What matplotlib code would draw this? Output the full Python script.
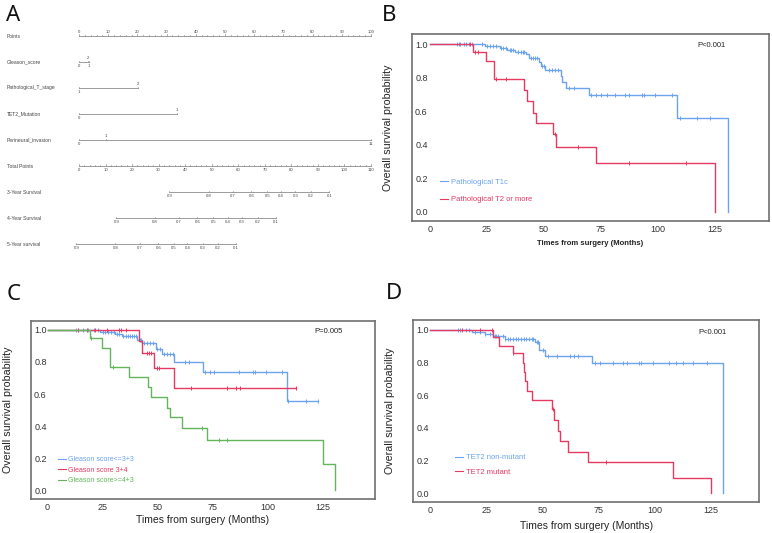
import numpy as np
import matplotlib
matplotlib.use('Agg')
import matplotlib.pyplot as plt

plt.rcParams['font.family'] = ['Liberation Sans', 'DejaVu Sans']

BLUE = '#6ba3ee'
RED = '#e53a62'
GREEN = '#62b55a'

# ---------------- nomogram data (panel A) ----------------
nomo_rows = ['Points', 'Gleason_score', 'Pathological_T_stage', 'TET2_Mutation',
             'Perineural_invasion', 'Total Points', '3-Year Survival',
             '4-Year Survival', '5-Year survival']
points_ticks = np.arange(0, 101, 10)
total_ticks = np.arange(0, 111, 10)

gleason_pts = [0, 3.0, 3.5]
gleason_lab = ['0', '2', '1']
tstage_pts = [0, 20.3]
tstage_lab = ['1', '2']
tet2_pts = [0, 33.4]
tet2_lab = ['0', '1']
pni_pts = [0, 9.2, 100]
pni_lab = ['0', '1', '11']

surv_lab = ['0.9', '0.8', '0.7', '0.6', '0.5', '0.4', '0.3', '0.2', '0.1']
surv3_total = [34.0, 48.9, 57.9, 64.9, 70.9, 76.0, 81.5, 87.3, 94.3]
surv4_total = [14.1, 28.6, 37.7, 44.6, 50.6, 56.2, 61.4, 67.3, 74.2]
surv5_total = [-1.0, 13.7, 23.0, 29.9, 35.8, 40.8, 46.6, 52.2, 59.1]

# ---------------- KM data ----------------
# panel B
b_t1c_t = [0, 24, 30.7, 34, 37.3, 42.4, 43.6, 47.9, 48.6, 50.5, 57.4, 58, 59.6, 69.8, 108.6, 130.8]
b_t1c_s = [1.0, 0.99, 0.976, 0.965, 0.955, 0.94, 0.92, 0.895, 0.87, 0.845, 0.81, 0.775, 0.74, 0.70, 0.559, 0.0]
b_t1c_c = [12, 12.6, 13.2, 14.8, 16, 17, 18.3, 22.7, 25, 26.3, 27.5, 28.8, 31.3, 32.3, 33.5, 35,
           35.8, 36.6, 38.5, 39.8, 40.8, 41.5, 44.5, 45.3, 46, 46.8, 49.3, 50.3, 52.3, 53.5, 55,
           56.3, 61.2, 63.2, 70.6, 72.9, 75.2, 77.9, 81.3, 85.7, 87.2, 93, 94, 99, 106.3, 109.6,
           117.4, 122.8]
b_t2_t = [0, 19, 24.6, 28.2, 41.2, 42.8, 45.3, 46.5, 54.1, 55.3, 72.7, 125]
b_t2_s = [1.0, 0.952, 0.90, 0.793, 0.725, 0.662, 0.592, 0.529, 0.463, 0.386, 0.29, 0.0]
b_t2_c = [17.5, 19.6, 21.3, 28.8, 33.6, 54.7, 65.1, 87.4, 112.6]

# panel C
c_g6_t = [0, 23.8, 30.6, 33.7, 40.8, 43.1, 49.3, 52.2, 57.6, 70.5, 108.8]
c_g6_s = [1.0, 0.99, 0.975, 0.96, 0.94, 0.92, 0.883, 0.85, 0.80, 0.7375, 0.556]
c_g6_c = [12.9, 13.9, 16.2, 18.5, 21.2, 22.7, 25, 26.2, 27.3, 28.8, 30.2, 31.5, 32.6, 34.3,
          35.5, 36.5, 37.6, 38.5, 39.5, 40.3, 42.0, 42.7, 44, 45.3, 46.8, 48.1, 49.9, 51, 52.9,
          54.4, 55.9, 57.1, 62.3, 64.3, 71.6, 73.9, 75.8, 87.2, 93.3, 94.2, 99.2, 106.8, 109.5,
          117.4, 123.2]
c_g7_t = [0, 41.7, 42.8, 48.4, 57.5]
c_g7_s = [1.0, 0.93, 0.855, 0.76, 0.635]
c_g7_c = [13.9, 17.7, 21.5, 26.8, 32.6, 33.4, 35.5, 45.1, 46.1, 47.0, 49.6, 50.7, 65.2, 81.6,
          85.7, 87.5, 112.9]
c_g8_t = [0, 19.3, 24.6, 28.4, 37.2, 45.8, 46.9, 54.1, 55.7, 61.3, 72.6, 125.2, 130.9]
c_g8_s = [1.0, 0.948, 0.89, 0.77, 0.708, 0.642, 0.579, 0.515, 0.454, 0.3875, 0.31, 0.16, 0.0]
c_g8_c = [19.8, 29.6, 70.2, 78.1, 81.5]

# panel D
d_wt_t = [0, 18.5, 24.5, 28.2, 33.4, 46.7, 48.6, 51.2, 71.9, 130.5]
d_wt_s = [1.0, 0.99, 0.975, 0.961, 0.947, 0.926, 0.877, 0.842, 0.7975, 0.0]
d_wt_c = [12.6, 13.4, 16.0, 17.5, 20, 22.2, 24.7, 26.7, 28.8, 29.5, 30.4, 32.5, 33.6, 34.7,
          35.7, 36.8, 38.3, 39.2, 40.7, 41.7, 42.8, 44, 45.2, 45.8, 47.4, 48.2, 50.1, 52.6,
          56.3, 62.2, 64.2, 65.7, 73.4, 75.6, 81.5, 86.0, 87.5, 93.2, 94.0, 99.1, 106.5, 109.5,
          112.4, 117.2, 123.1]
d_mut_t = [0, 28.2, 30.7, 36.8, 41.2, 41.8, 42.4, 43.3, 45.5, 54.2, 55.2, 57.1, 57.8, 61.2,
           70.4, 108.2, 124.8]
d_mut_s = [1.0, 0.959, 0.904, 0.857, 0.80, 0.74, 0.685, 0.625, 0.569, 0.514, 0.448, 0.383,
           0.318, 0.253, 0.19, 0.094, 0.0]
d_mut_c = [14.1, 22.2, 27.4, 37.1, 54.9, 78.1]

x_ticks = [0, 25, 50, 75, 100, 125]
y_ticks = [0.0, 0.2, 0.4, 0.6, 0.8, 1.0]


def km_xy(t, s, cens):
    end = max(t[-1], max(cens))
    return list(t) + [end], list(s) + [s[-1]]


def cens_y(t, s, cens):
    idx = np.searchsorted(t, cens, side='right') - 1
    return np.asarray(s)[idx]


def km_panel(ax, curves, pval, pxy, xlim, ylim, leg_anchor, leg_fs, leg_sp,
             bold_x, xlab_fs, xlab_y):
    for t, s, c, col, lab in curves:
        tx, sy = km_xy(t, s, c)
        ax.step(tx, sy, where='post', color=col, lw=1.0, label=lab)
        ax.plot(c, cens_y(t, s, c), ls='none', marker='|', ms=3.5, mew=0.7, color=col)
    ax.set_xlim(*xlim)
    ax.set_ylim(*ylim)
    ax.set_xticks(x_ticks)
    ax.set_yticks(y_ticks)
    ax.set_yticklabels(['%.1f' % v for v in y_ticks])
    ax.tick_params(axis='both', length=0, labelsize=6.5, colors='#333333')
    ax.tick_params(axis='y', pad=-11.5)
    ax.tick_params(axis='x', pad=3)
    for sp in ax.spines.values():
        sp.set_color('#707070')
        sp.set_linewidth(1.2)
    ax.set_ylabel('Overall survival probability', fontsize=7.7, color='#222222')
    ax.yaxis.set_label_coords(-0.052, 0.5)
    ax.set_xlabel('Times from surgery (Months)', fontsize=xlab_fs, color='#222222',
                  fontweight='bold' if bold_x else 'normal')
    ax.xaxis.set_label_coords(0.5, xlab_y)
    ax.text(pxy[0], pxy[1], pval, transform=ax.transAxes, fontsize=5.5,
            ha='center', va='center', color='#222222')
    leg = ax.legend(loc='upper left', bbox_to_anchor=leg_anchor, frameon=False,
                    fontsize=leg_fs, handlelength=1.1, handletextpad=0.4,
                    labelspacing=leg_sp, borderpad=0, borderaxespad=0,
                    labelcolor='linecolor')
    for h in leg.legend_handles:
        h.set_linewidth(0.8)


W, H = 772, 533
fig = plt.figure(figsize=(W / 100, H / 100), dpi=100)


def px_axes(x0, x1, y0, y1):
    return fig.add_axes([x0 / W, 1 - y1 / H, (x1 - x0) / W, (y1 - y0) / H])


# ---------------- panel A ----------------
axa = px_axes(0, 390, 0, 270)
axa.set_xlim((0 - 79) / 2.92, (390 - 79) / 2.92)
axa.set_ylim(270, 0)
axa.axis('off')
lc = '#8c8c8c'
tc = '#444444'
row_y = [36 + 26 * i for i in range(len(nomo_rows))]
for name, y in zip(nomo_rows, row_y):
    axa.text(-24.7, y, name, fontsize=3.6, color=tc, va='center', ha='left')

# Points scale
y = row_y[0]
axa.plot([0, 100], [y, y], color=lc, lw=0.6)
for v in np.arange(0, 101, 2):
    axa.plot([v, v], [y, y - (1.6 if v % 10 == 0 else 0.9)], color=lc, lw=0.5)
for v in points_ticks:
    axa.text(v, y - 2.2, str(v), fontsize=3.1, color=tc, ha='center', va='bottom')

# covariate scales
for (pts, labs), y in zip([(gleason_pts, gleason_lab), (tstage_pts, tstage_lab),
                           (tet2_pts, tet2_lab), (pni_pts, pni_lab)], row_y[1:5]):
    axa.plot([min(pts), max(pts)], [y, y], color=lc, lw=0.6)
    for i, (p, lab) in enumerate(zip(pts, labs)):
        axa.plot([p, p], [y, y - 1.4], color=lc, lw=0.5)
        if i % 2 == 0:
            axa.text(p, y + 2.0, lab, fontsize=3.1, color=tc, ha='center', va='top')
        else:
            axa.text(p, y - 2.2, lab, fontsize=3.1, color=tc, ha='center', va='bottom')

# Total points scale
y = row_y[5]
sc = 100 / 110
axa.plot([0, 100], [y, y], color=lc, lw=0.6)
for v in np.arange(0, 111, 2):
    axa.plot([v * sc, v * sc], [y, y - (1.6 if v % 10 == 0 else 0.9)], color=lc, lw=0.5)
for v in total_ticks:
    axa.text(v * sc, y + 2.3, str(v), fontsize=3.1, color=tc, ha='center', va='top')

# survival scales
for tot, y in zip([surv3_total, surv4_total, surv5_total], row_y[6:9]):
    xs = [v * sc for v in tot]
    axa.plot([xs[0], xs[-1]], [y, y], color=lc, lw=0.6)
    for xv, lab in zip(xs, surv_lab):
        axa.plot([xv, xv], [y, y - 1.4], color=lc, lw=0.5)
        axa.text(xv, y + 2.3, lab, fontsize=3.1, color=tc, ha='center', va='top')

# ---------------- panel B ----------------
axb = px_axes(411.7, 769.3, 34.3, 221)
km_panel(axb,
         [(b_t1c_t, b_t1c_s, b_t1c_c, BLUE, 'Pathological T1c'),
          (b_t2_t, b_t2_s, b_t2_c, RED, 'Pathological T2 or more')],
         'P<0.001', (0.837, 0.939), (-8, 149), (-0.054, 1.06),
         (0.079, 0.226), 5.5, 1.3, True, 5.5, -0.10)

# ---------------- panel C ----------------
axc = px_axes(30.7, 375.3, 321, 498.7)
km_panel(axc,
         [(c_g6_t, c_g6_s, c_g6_c, BLUE, 'Gleason score<=3+3'),
          (c_g7_t, c_g7_s, c_g7_c, RED, 'Gleason score 3+4'),
          (c_g8_t, c_g8_s, c_g8_c, GREEN, 'Gleason score>=4+3')],
         'P=0.005', (0.864, 0.94), (-7.7, 149.1), (-0.054, 1.056),
         (0.079, 0.24), 5.0, 0.5, False, 7.5, -0.092)

# ---------------- panel D ----------------
axd = px_axes(413.3, 759.3, 320, 502.3)
km_panel(axd,
         [(d_wt_t, d_wt_s, d_wt_c, BLUE, 'TET2 non-mutant'),
          (d_mut_t, d_mut_s, d_mut_c, RED, 'TET2 mutant')],
         'P<0.001', (0.865, 0.929), (-7.4, 146.5), (-0.057, 1.061),
         (0.12, 0.265), 5.5, 0.95, False, 7.5, -0.10)

# panel letters
for lab, x, y in [('A', 6, 5), ('B', 382, 5), ('C', 7, 284), ('D', 386, 283)]:
    fig.text(x / W, 1 - y / H, lab, fontsize=16, family=['Noto Sans', 'DejaVu Sans'],
             ha='left', va='top', color='#111111')

fig.savefig('out.png', dpi=100)
